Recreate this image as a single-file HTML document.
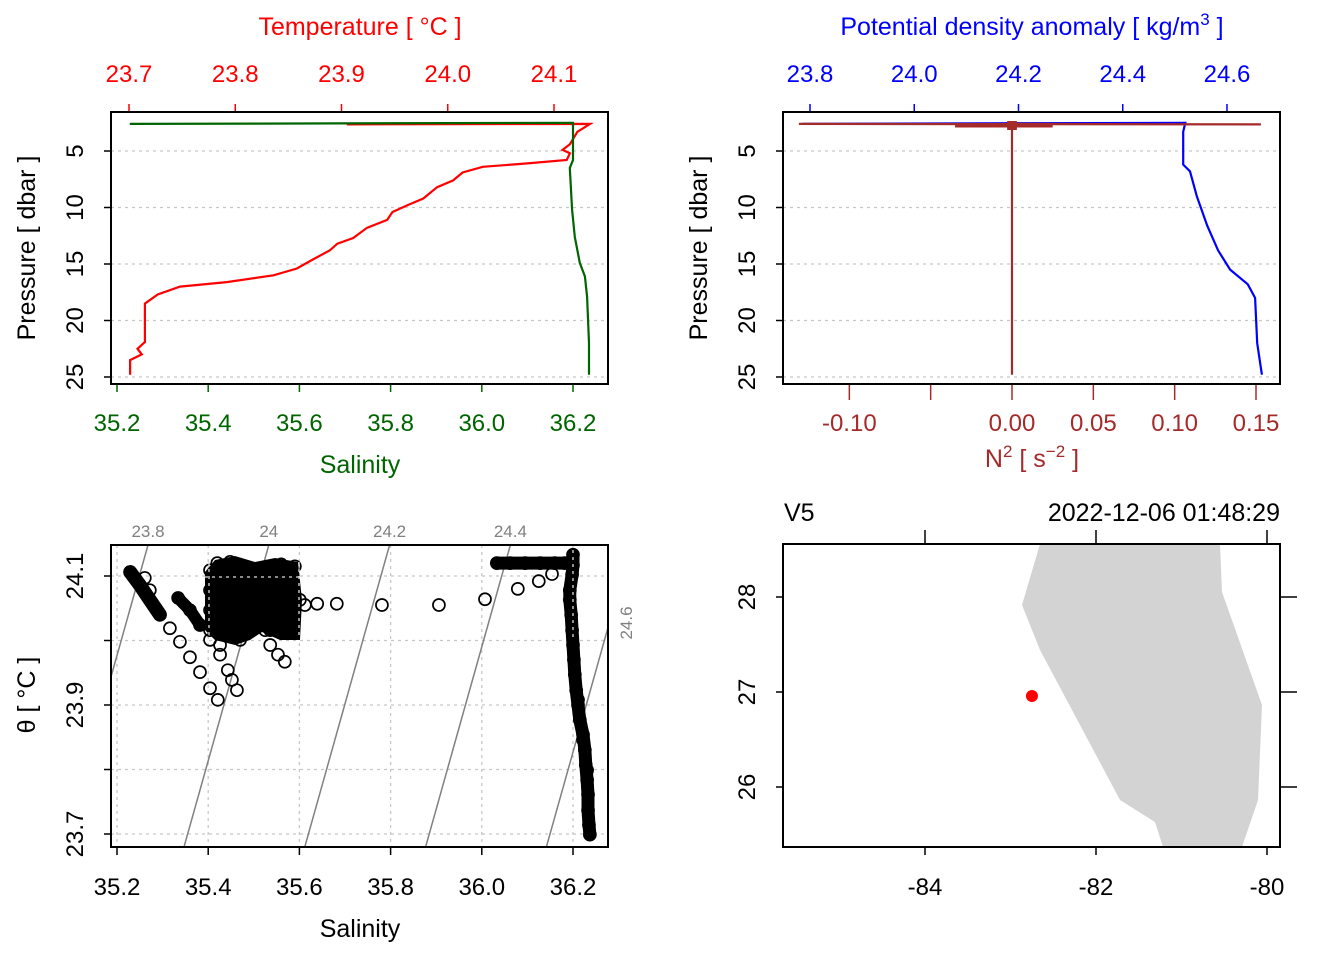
<!DOCTYPE html>
<html><head><meta charset="utf-8"><style>
html,body{margin:0;padding:0;background:#fff}
svg{display:block;font-family:"Liberation Sans",sans-serif}
</style></head><body>
<svg id="s" width="1344" height="960" viewBox="0 0 1344 960"></svg>
<script>
// ---- data ----
const tempP=[24.8,23.5,23.0,22.5,21.9,18.5,18.3,17.7,17.0,16.6,16.0,15.4,14.6,13.8,13.2,12.7,11.8,11.1,10.4,9.8,9.2,8.2,7.6,6.9,6.4,6.1,5.8,5.2,4.9,4.4,3.3,2.6,2.65];
const tempT=[23.701,23.701,23.712,23.708,23.715,23.715,23.718,23.727,23.748,23.792,23.836,23.858,23.873,23.889,23.896,23.911,23.924,23.943,23.948,23.962,23.977,23.990,24.005,24.014,24.033,24.075,24.112,24.115,24.108,24.115,24.122,24.134,23.905];
const salP=[24.8,22.0,17.9,16.1,14.9,12.6,10.2,6.5,5.8,2.5,2.6];
const salS=[36.235,36.235,36.231,36.226,36.215,36.204,36.198,36.193,36.200,36.200,35.228];
const sigP=[24.8,22.0,18.0,16.8,15.5,13.8,11.6,9.0,6.8,6.2,3.3,2.5,2.6];
const sigV=[24.667,24.658,24.654,24.640,24.606,24.583,24.562,24.542,24.529,24.516,24.516,24.520,23.785];
const n2P=[2.6,2.65,2.6,24.8];
const n2V=[-0.131,0.153,0.000,0.000];
const tsS=[36.200,36.200,36.198,36.193,36.193,36.196,36.198,36.200,36.202,36.204,36.207,36.211,36.215,36.222,36.226,36.228,36.231,36.233,36.233,36.235,36.237,36.211,36.222,36.231,
36.033,36.062,36.095,36.128,36.160,36.182,
35.639,35.682,35.781,35.906,36.007,36.079,36.125,36.154,
35.229,35.250,35.272,35.294,35.316,35.338,35.360,35.382,35.404,35.421,35.261,35.272,
35.334,35.360,35.382,35.404,35.426,35.443,35.463,35.452,
35.404,35.448,35.492,35.536,35.579,35.404,35.448,35.492,35.536,35.579,35.404,35.448,35.492,35.536,35.579,35.404,35.448,35.492,35.536,35.579,35.448,35.470,35.426,
35.525,35.536,35.553,35.568,35.601,35.612,35.420,35.560,35.590];
const tsT=[24.133,24.117,24.102,24.078,24.063,24.040,24.016,23.993,23.970,23.947,23.923,23.900,23.877,23.854,23.830,23.807,23.784,23.761,23.737,23.714,23.699,23.908,23.846,23.799,
24.120,24.120,24.120,24.120,24.120,24.120,
24.057,24.057,24.055,24.055,24.064,24.080,24.092,24.103,
24.106,24.086,24.063,24.040,24.019,23.998,23.974,23.951,23.926,23.908,24.097,24.078,
24.066,24.047,24.024,24.001,23.978,23.954,23.923,23.939,
24.109,24.109,24.109,24.109,24.109,24.078,24.078,24.078,24.078,24.078,24.047,24.047,24.047,24.047,24.047,24.016,24.016,24.016,24.016,24.016,24.122,24.001,23.993,
24.016,23.993,23.978,23.967,24.063,24.055,24.120,24.118,24.115];
const isoLevels=[23.8,24.0,24.2,24.4,24.6];
const isoLabels=["23.8","24","24.2","24.4","24.6"];
const coastLon=[-82.655,-80.550,-80.526,-80.058,-80.105,-80.292,-81.216,-81.310,-81.719,-82.655,-82.865];
const coastLat=[28.558,28.558,28.053,26.863,25.863,25.368,25.368,25.632,25.863,27.442,27.916];
const stnLon=[-82.749], stnLat=[26.958];
const sTicks=[35.2,35.4,35.6,35.8,36.0,36.2];
const pTicks=[5,10,15,20,25];
const sigTicks=[23.8,24.0,24.2,24.4,24.6];
const n2Ticks=[-0.10,-0.05,0.00,0.05,0.10,0.15];
const n2Labels=["-0.10","","0.00","0.05","0.10","0.15"];
const thTicks=[23.7,23.8,23.9,24.0,24.1];
const thLabels=["23.7","","23.9","","24.1"];
const lonTicks=[-84,-82,-80], latTicks=[26,27,28];

// ---- helpers ----
const svg=document.getElementById('s');const NS='http://www.w3.org/2000/svg';
function E(t,a,txt){const e=document.createElementNS(NS,t);for(const k in a)e.setAttribute(k,a[k]);if(txt!==undefined)e.textContent=txt;svg.appendChild(e);return e;}
function T(x,y,s,fill,anchor,rot,name,size){const a={x:x,y:y,fill:fill,'font-size':size||24,'text-anchor':anchor||'middle'};if(rot)a.transform='rotate(-90 '+x+' '+y+')';const e=E('text',a,s);return e;}
function L(x1,y1,x2,y2,st,w,dash,name){const e=E('line',{x1:x1,y1:y1,x2:x2,y2:y2,stroke:st,'stroke-width':w||1.5});if(dash)e.setAttribute('stroke-dasharray',dash);return e;}
function lin(d0,d1,r0,r1){return v=>r0+(v-d0)*(r1-r0)/(d1-d0);}

const xS=lin(35.2,36.2,117,573);
const yP=lin(5,25,151,377);
const xT=lin(23.7,24.1,129,554);
const xSig=lin(23.8,24.6,810,1227);
const xN2=lin(0,0.15,1012,1256);
const yTh=lin(24.1,23.7,576,834);
const xLon=lin(-84,-80,925,1267);
const yLat=lin(28,26,597,787);

// ===== Panel 1 =====
pTicks.forEach(p=>{L(111,yP(p),608,yP(p),'#c8c8c8',1.3,'3,4','pressure-gridline-1');});
pTicks.forEach(p=>{L(104,yP(p),111,yP(p),'#000',1.5,null,'pressure-tick-1');T(83,yP(p),String(p),'#000','middle',true,'pressure-tick-label');});
T(35,248,'Pressure [ dbar ]','#000','middle',true,'pressure-axis-title-1',25);
sTicks.forEach(s=>{L(xS(s),384,xS(s),392,'#006400',1.5,null,'salinity-tick');T(xS(s),431,s.toFixed(1),'#006400','middle',false,'salinity-tick-label');});
T(360,473,'Salinity','#006400','middle',false,'salinity-axis-title',25);
[23.7,23.8,23.9,24.0,24.1].forEach(t=>{L(xT(t),104,xT(t),112,'#ff0000',1.5,null,'temperature-tick');T(xT(t),82,t.toFixed(1),'#ff0000','middle',false,'temperature-tick-label');});
T(360,35,'Temperature [ °C ]','#ff0000','middle',false,'temperature-axis-title',25);
let p1='';tempP.forEach((p,i)=>{p1+=(i?'L':'M')+xT(tempT[i]).toFixed(1)+' '+yP(p).toFixed(1);});
let e=E('path',{d:p1,fill:'none',stroke:'#ff0000','stroke-width':2.2});
let p2='';salP.forEach((p,i)=>{p2+=(i?'L':'M')+xS(salS[i]).toFixed(1)+' '+yP(p).toFixed(1);});
e=E('path',{d:p2,fill:'none',stroke:'#006400','stroke-width':2.2});
e=E('rect',{x:111,y:112,width:497,height:272,fill:'none',stroke:'#000','stroke-width':2});

// ===== Panel 2 =====
pTicks.forEach(p=>{L(783,yP(p),1280,yP(p),'#c8c8c8',1.3,'3,4','pressure-gridline-2');});
pTicks.forEach(p=>{L(776,yP(p),783,yP(p),'#000',1.5,null,'pressure-tick-2');T(755,yP(p),String(p),'#000','middle',true,'pressure-tick-label');});
T(707,248,'Pressure [ dbar ]','#000','middle',true,'pressure-axis-title-2',25);
sigTicks.forEach(s=>{L(xSig(s),104,xSig(s),112,'#0000ff',1.5,null,'density-tick');T(xSig(s),82,s.toFixed(1),'#0000ff','middle',false,'density-tick-label');});
e=E('text',{x:1032,y:35,fill:'#0000ff','font-size':25,'text-anchor':'middle'});
e.innerHTML='Potential density anomaly [ kg/m<tspan dy="-10" font-size="17">3</tspan><tspan dy="10"> ]</tspan>';
n2Ticks.forEach((v,i)=>{L(xN2(v),384,xN2(v),400,'#a52a2a',1.5,null,'n2-tick');if(n2Labels[i])T(xN2(v),431,n2Labels[i],'#a52a2a','middle',false,'n2-tick-label');});
e=E('text',{x:1032,y:467,fill:'#a52a2a','font-size':25,'text-anchor':'middle'});
e.innerHTML='N<tspan dy="-10" font-size="17">2</tspan><tspan dy="10"> [ s</tspan><tspan dy="-10" font-size="17">−2</tspan><tspan dy="10"> ]</tspan>';
let p3='';sigP.forEach((p,i)=>{p3+=(i?'L':'M')+xSig(sigV[i]).toFixed(1)+' '+yP(p).toFixed(1);});
e=E('path',{d:p3,fill:'none',stroke:'#0000ff','stroke-width':2.2});
let p4='';n2P.forEach((p,i)=>{p4+=(i?'L':'M')+xN2(n2V[i]).toFixed(1)+' '+yP(p).toFixed(1);});
e=E('path',{d:p4,fill:'none',stroke:'#a52a2a','stroke-width':2.2});
e=E('rect',{x:xN2(-0.035),y:124.5,width:xN2(0.025)-xN2(-0.035),height:3,fill:'#a52a2a'});
e=E('rect',{x:xN2(-0.003),y:121,width:xN2(0.003)-xN2(-0.003),height:9,fill:'#a52a2a'});
e=E('rect',{x:783,y:112,width:497,height:272,fill:'none',stroke:'#000','stroke-width':2});

// ===== Panel 3 =====
sTicks.forEach(s=>{L(xS(s),545,xS(s),847,'#c8c8c8',1.3,'3,4','ts-vertical-gridline');});
thTicks.forEach(t=>{L(111,yTh(t),608,yTh(t),'#c8c8c8',1.3,'3,4','ts-horizontal-gridline');});
const cl=document.createElementNS(NS,'clipPath');cl.setAttribute('id','tsclip');cl.innerHTML='<rect x="111" y="545" width="497" height="302"/>';svg.appendChild(cl);
const cl2=document.createElementNS(NS,'clipPath');cl2.setAttribute('id','mapclip');cl2.innerHTML='<rect x="783" y="544" width="497" height="303"/>';svg.appendChild(cl2);
function sAt(sig,t){return 35.268+(sig-23.8+0.300*(t-24.148))/0.755;}
const tTop=24.148,tBot=23.68;
isoLevels.forEach((sig,i)=>{
  const l=L(xS(sAt(sig,tTop)),yTh(tTop),xS(sAt(sig,tBot)),yTh(tBot),'#808080',1.5,null,'isopycnal-line');l.setAttribute('clip-path','url(#tsclip)');
  if(i<4) T(xS(sAt(sig,tTop)),537,isoLabels[i],'#808080','middle',false,'isopycnal-label',17);
  else T(632,623,isoLabels[i],'#808080','middle',true,'isopycnal-label',17);
});
const g=document.createElementNS(NS,'g');g.setAttribute('clip-path','url(#tsclip)');svg.appendChild(g);

function track(i0,i1,w){let d='';for(let i=i0;i<=i1;i++)d+=(i>i0?'L':'M')+xS(tsS[i]).toFixed(1)+' '+yTh(tsT[i]).toFixed(1);
 const pth=document.createElementNS(NS,'path');pth.setAttribute('d',d);pth.setAttribute('fill','none');pth.setAttribute('stroke','#000');pth.setAttribute('stroke-width',w);pth.setAttribute('stroke-linecap','round');pth.setAttribute('stroke-linejoin','round');
 
 
 g.appendChild(pth);}
track(0,20,13);track(24,29,13);track(38,41,14);track(50,52,12);
tsS.forEach((s,i)=>{const c=document.createElementNS(NS,'circle');c.setAttribute('cx',xS(s));c.setAttribute('cy',yTh(tsT[i]));c.setAttribute('r',6);c.setAttribute('fill','none');c.setAttribute('stroke','#000');c.setAttribute('stroke-width',1.7);


g.appendChild(c);});
e=E('path',{d:'M205 572 L215 560 L235 556 L255 562 L275 558 L298 562 L302 600 L300 640 L280 640 L262 632 L250 640 L235 645 L215 640 L205 630 Z',fill:'#000','clip-path':'url(#tsclip)'});
L(205,577,300,577,'#ddd',1.3,'3,4','ts-gridline-overlay');L(209,562,209,637,'#ddd',1.3,'3,4','ts-gridline-overlay');L(299,562,299,637,'#ddd',1.3,'3,4','ts-gridline-overlay');L(573,550,573,640,'#ddd',1.3,'3,4','ts-gridline-overlay');
sTicks.forEach(s=>{L(xS(s),847,xS(s),855,'#000',1.5,null,'ts-salinity-tick');T(xS(s),895,s.toFixed(1),'#000','middle',false,'ts-salinity-tick-label');});
T(360,937,'Salinity','#000','middle',false,'ts-salinity-axis-title',25);
thTicks.forEach((t,i)=>{L(104,yTh(t),111,yTh(t),'#000',1.5,null,'theta-tick');if(thLabels[i])T(83,yTh(t),thLabels[i],'#000','middle',true,'theta-tick-label');});
T(35,695,'θ [ °C ]','#000','middle',true,'theta-axis-title',25);
e=E('rect',{x:111,y:545,width:497,height:302,fill:'none',stroke:'#000','stroke-width':2});

// ===== Panel 4 =====
let pm='';coastLon.forEach((lo,i)=>{pm+=(i?'L':'M')+xLon(lo).toFixed(1)+' '+yLat(coastLat[i]).toFixed(1);});
e=E('path',{d:pm+'Z',fill:'#d3d3d3',stroke:'none','clip-path':'url(#mapclip)'});
stnLon.forEach((lo,i)=>{e=E('circle',{cx:xLon(lo),cy:yLat(stnLat[i]),r:6,fill:'#ff0000'});});
lonTicks.forEach(lo=>{L(xLon(lo),847,xLon(lo),855,'#000',1.5,null,'longitude-tick');T(xLon(lo),895,String(lo),'#000','middle',false,'longitude-tick-label');L(xLon(lo),530,xLon(lo),544,'#000',1.5,null,'longitude-top-tick');});
latTicks.forEach(la=>{L(776,yLat(la),783,yLat(la),'#000',1.5,null,'latitude-tick');T(755,yLat(la),String(la),'#000','middle',true,'latitude-tick-label');L(1280,yLat(la),1297,yLat(la),'#000',1.5,null,'latitude-right-tick');});
T(784,521,'V5','#000','start',false,'station-name',25);
T(1280,521,'2022-12-06 01:48:29','#000','end',false,'station-time',25);
e=E('rect',{x:783,y:544,width:497,height:303,fill:'none',stroke:'#000','stroke-width':2});
</script>
</body></html>
